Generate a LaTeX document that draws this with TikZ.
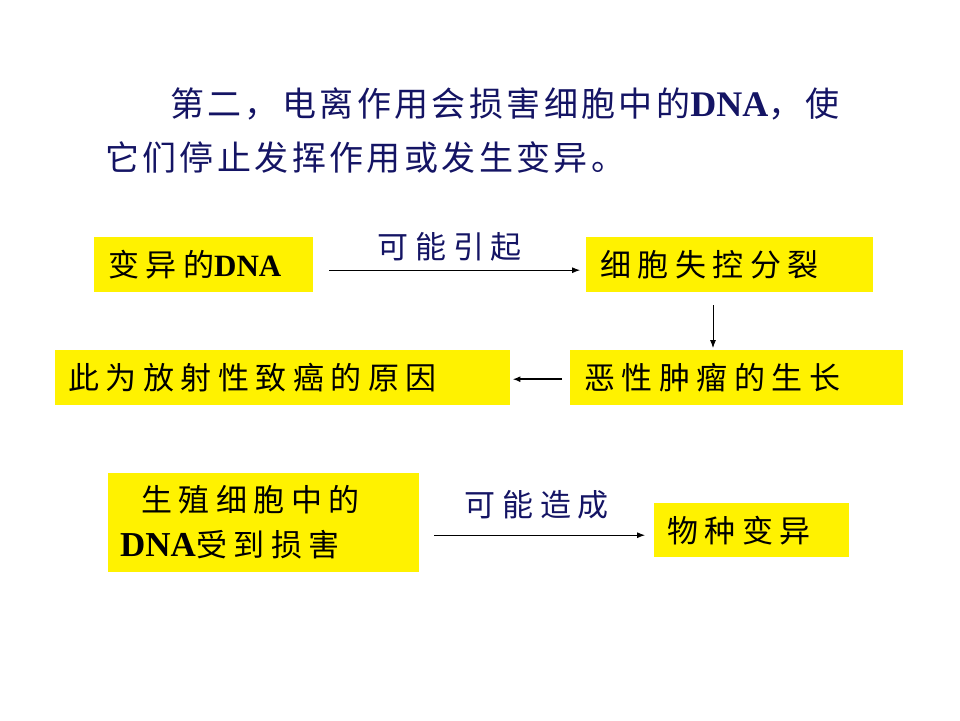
\documentclass[tikz,border=0pt]{standalone}
\usepackage{fontspec}
\setmainfont{Liberation Serif}
\newfontfamily\cjk{Noto Sans CJK SC}[LetterSpace=21]
\newfontfamily\cjkh{Noto Sans CJK SC}[LetterSpace=10]
\newfontfamily\cjkl{Noto Sans CJK SC}[LetterSpace=22]
\usetikzlibrary{arrows.meta}
\definecolor{navy}{RGB}{20,20,100}
\newcommand\dnatxt{{\normalfont\bfseries DNA}}
\tikzset{
  ybox/.style={fill=yellow, inner xsep=14pt, inner ysep=0pt, anchor=north west, align=left,
    font=\fontsize{31}{45}\selectfont\cjk},
  arr/.style={-{Latex[length=8pt,width=6pt]}, line width=0.8pt},
  lbl/.style={inner sep=0pt, text=navy, font=\fontsize{31}{36}\selectfont\cjkl}
}
\begin{document}
\begin{tikzpicture}[x=1pt,y=-1pt]
\useasboundingbox[fill=white] (0,0) rectangle (960,720);
\node[anchor=west, inner sep=0pt, text=navy, font=\fontsize{34}{36}\selectfont\cjkh] (h1) at (170,104)
  {第二，电离作用会损害细胞中的{\fontsize{36}{36}\selectfont\dnatxt}，使};
\node[anchor=west, inner sep=0pt, text=navy, font=\fontsize{34}{36}\selectfont\cjkh] (h2) at (105,158)
  {它们停止发挥作用或发生变异。};

\node[ybox, minimum width=219pt, minimum height=55pt, text width=191pt] (a) at (94,237) {变异的\dnatxt};
\node[ybox, minimum width=287pt, minimum height=55pt, text width=259pt] (b) at (586,237) {细胞失控分裂};
\node[ybox, minimum width=333pt, minimum height=55pt, text width=305pt] (c) at (570,350) {恶性肿瘤的生长};
\node[ybox, inner xsep=13pt, minimum width=455pt, minimum height=55pt, text width=429pt] (d) at (55,350) {此为放射性致癌的原因};
\node[ybox, inner xsep=12pt, minimum width=311pt, minimum height=99pt, text width=287pt] (e) at (108,473)
  {\hspace*{21pt}生殖细胞中的\\{\fontsize{35}{45}\selectfont\dnatxt}受到损害};
\node[ybox, inner xsep=13pt, minimum width=195pt, minimum height=54pt, text width=169pt] (f) at (654,503) {物种变异};

\draw[arr, shorten <=16pt, shorten >=6pt] ([yshift=-5.5pt]a.east) -- ([yshift=-5.5pt]b.west)
  node[midway, above=9pt, lbl] (l1) {可能引起};
\draw[arr, shorten <=13pt, shorten >=2pt] ([xshift=127pt]b.south west) -- ([xshift=127pt]b.south west |- c.north);
\draw[arr, line width=1.6pt, shorten <=8pt, shorten >=2pt] ([yshift=-1.5pt]c.west) -- ([yshift=-1.5pt]d.east);
\draw[arr, shorten <=15pt, shorten >=9pt] ([yshift=-12.5pt]e.east) -- ([yshift=-5pt]f.west)
  node[midway, above=16pt, lbl] (l2) {可能造成};
\end{tikzpicture}
\end{document}
